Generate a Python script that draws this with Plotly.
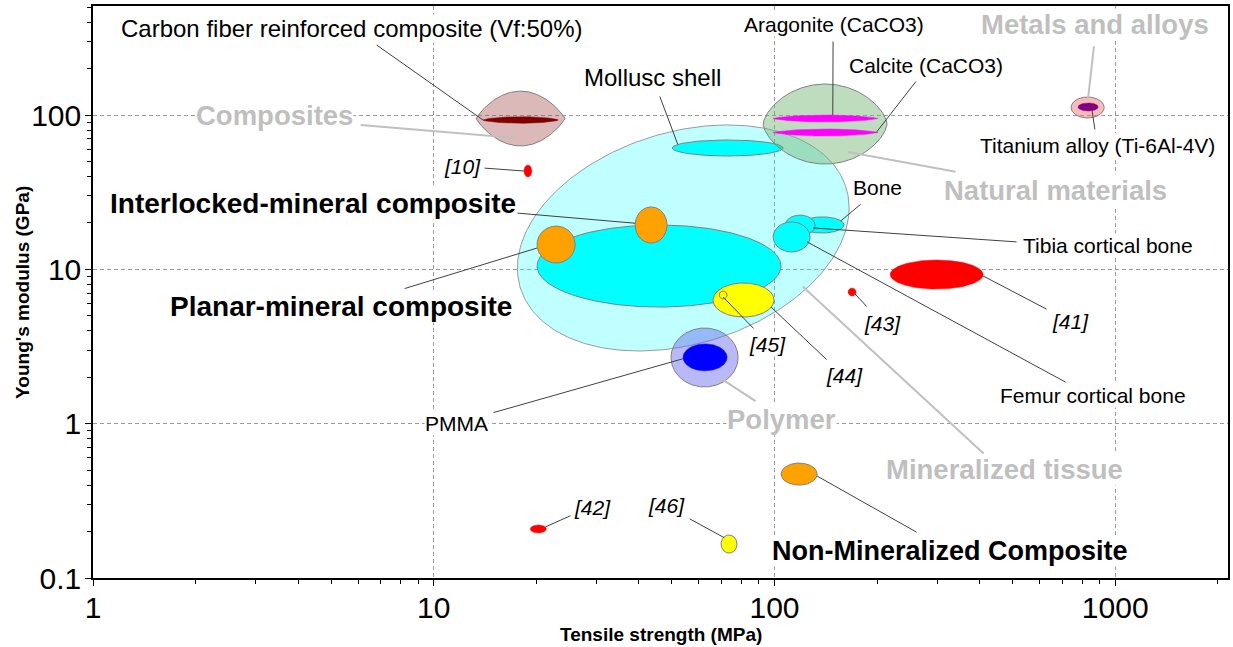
import numpy as np
import plotly.graph_objects as go

# ---------------- data: tensile strength (MPa) and Young's modulus (GPa) ranges ----------------
materials = ["mineral_tissue", "mollusc", "natural", "aragonite", "calcite",
             "composites", "cfrp", "ref10", "metals", "ti_alloy",
             "polymer", "pmma", "planar_tissue", "interlocked", "planar",
             "ref44", "ref45", "bone", "tibia", "femur",
             "ref41", "ref43", "nonmineral", "ref42", "ref46"]
strength_min = [17.6, 50.1, 92.6, 99.1, 99.1,
                13.3, 13.95, 18.4, 742, 778,
                49.7, 53.9, 20.1, 39.0, 20.1,
                66.0, 68.8, 118.9, 107.4, 99.1,
                218.5, 164.4, 104.6, 19.2, 69.7]
strength_max = [165.6, 106, 214, 201, 201,
                24.3, 23.2, 19.4, 928, 891,
                78.2, 72.6, 104.5, 48.4, 26.0,
                99.7, 72.6, 160, 131.6, 127.2,
                409.7, 173.6, 133.4, 21.4, 77.6]
modulus_min = [2.96, 54.3, 48.2, 90.2, 73.2,
               63.1, 88.5, 39.7, 95.8, 106.3,
               1.73, 2.20, 5.70, 14.8, 11.0,
               4.91, 6.43, 17.2, 16.5, 12.97,
               7.46, 6.72, 0.400, 0.1957, 0.145]
modulus_max = [86.3, 69.0, 159, 100.1, 81.3,
               143, 97.6, 47.5, 131, 119.8,
               4.17, 3.29, 19.4, 25.4, 19.1,
               8.17, 7.24, 21.9, 22.5, 20.3,
               11.5, 7.58, 0.556, 0.2206, 0.190]

x_ticks = [1, 10, 100, 1000]
x_ticktext = ["1", "10", "100", "1000"]
y_ticks = [0.1, 1, 10, 100]
y_ticktext = ["0.1", "1", "10", "100"]

# ---------------- styles ----------------
GRAY = "#808080"
style = {
    "mineral_tissue": dict(fill="rgba(0,255,255,0.25)", line="#9a9a9a", p=1.0, tilt=0.27),
    "mollusc": dict(fill="#00FFFF", line=GRAY),
    "natural": dict(fill="rgba(110,180,110,0.45)", line=GRAY, p=1.3),
    "aragonite": dict(fill="#FF00FF", line=None, p=1.5),
    "calcite": dict(fill="#FF00FF", line=None, p=1.5),
    "composites": dict(fill="rgba(165,80,80,0.4)", line=GRAY, p=1.8),
    "cfrp": dict(fill="#800000", line=None, p=1.3),
    "ref10": dict(fill="#FF0000", line=None),
    "metals": dict(fill="rgba(240,120,120,0.5)", line=GRAY),
    "ti_alloy": dict(fill="#800080", line=None),
    "polymer": dict(fill="rgba(100,100,240,0.45)", line=GRAY),
    "pmma": dict(fill="#0000FF", line=None),
    "planar_tissue": dict(fill="#00FFFF", line=GRAY),
    "interlocked": dict(fill="#FFA200", line=GRAY),
    "planar": dict(fill="#FFA200", line=GRAY),
    "ref44": dict(fill="#FFFF00", line=GRAY),
    "ref45": dict(fill="#FFFF00", line=GRAY),
    "bone": dict(fill="#00FFFF", line=GRAY),
    "tibia": dict(fill="#00FFFF", line=GRAY),
    "femur": dict(fill="#00FFFF", line=GRAY),
    "ref41": dict(fill="#FF0000", line=None),
    "ref43": dict(fill="#FF0000", line=None),
    "nonmineral": dict(fill="#FFA200", line=GRAY),
    "ref42": dict(fill="#FF0000", line=None),
    "ref46": dict(fill="#FFFF00", line=GRAY),
}

FONT = "Liberation Sans, Arial, sans-serif"


def geom(name):
    i = materials.index(name)
    lx = np.log10([strength_min[i], strength_max[i]])
    ly = np.log10([modulus_min[i], modulus_max[i]])
    return lx.mean(), (lx[1] - lx[0]) / 2, ly.mean(), (ly[1] - ly[0]) / 2


def outline(name):
    cx, A, cy, B = geom(name)
    st = style[name]
    p = st.get("p", 1.0)
    tilt = st.get("tilt", 0.0)
    t = np.linspace(0, 2 * np.pi, 301)
    s = np.sin(t + tilt)
    X = cx + A * np.cos(t)
    Y = cy + B * np.sign(s) * np.abs(s) ** p
    return 10 ** X, 10 ** Y


def anchor(name, fx, fy):
    cx, A, cy, B = geom(name)
    return cx + fx * A, cy + fy * B


fig = go.Figure()
for name in materials:
    xs, ys = outline(name)
    st = style[name]
    fig.add_trace(go.Scatter(
        x=xs, y=ys, mode="lines", fill="toself", fillcolor=st["fill"],
        line=dict(color=st["line"] if st["line"] else st["fill"], width=1 if st["line"] else 0.5),
        hoverinfo="skip", showlegend=False, name=name))

# ---------------- labels ----------------
BLACK_LINE = "#404040"
LIGHT = "#c0c0c0"
# (text, x, y, kind)
labels = [
    ("Carbon fiber reinforced composite (Vf:50%)", 5.76, 366.8, "big"),
    ("<b>Composites</b>", 3.42, 98.7, "gray"),
    ("<i>[10]</i>", 12.11, 46.1, "ref"),
    ("<b>Interlocked-mineral composite</b>", 4.42, 26.9, "bold"),
    ("<b>Planar-mineral composite</b>", 5.34, 5.79, "bold"),
    ("Mollusc shell", 44.0, 174, "big"),
    ("Aragonite (CaCO3)", 149.6, 383.7, "norm"),
    ("Calcite (CaCO3)", 278.6, 208.1, "norm"),
    ("<b>Metals and alloys</b>", 873, 383.7, "gray"),
    ("Titanium alloy (Ti-6Al-4V)", 885, 64.0, "norm"),
    ("<b>Natural materials</b>", 666, 32.7, "gray"),
    ("Bone", 200.1, 33.7, "norm"),
    ("Tibia cortical bone", 953, 14.18, "norm"),
    ("Femur cortical bone", 861, 1.512, "norm"),
    ("<i>[41]</i>", 737.4, 4.63, "ref"),
    ("<i>[43]</i>", 206.9, 4.43, "ref"),
    ("<i>[44]</i>", 160.1, 2.04, "ref"),
    ("<i>[45]</i>", 95.1, 3.24, "ref"),
    ("PMMA", 11.7, 1.01, "norm"),
    ("<b>Polymer</b>", 104.6, 1.057, "gray"),
    ("<b>Mineralized tissue</b>", 472, 0.5085, "gray"),
    ("<i>[42]</i>", 29.15, 0.2885, "ref"),
    ("<i>[46]</i>", 48.1, 0.2929, "ref"),
    ("<b>Non-Mineralized Composite</b>", 327.6, 0.1496, "nm"),
]
fonts = {
    "big": dict(size=24, color="black"),
    "norm": dict(size=21, color="black"),
    "ref": dict(size=21, color="black"),
    "bold": dict(size=28, color="black"),
    "nm": dict(size=27, color="black"),
    "gray": dict(size=27.5, color="#bfbfbf"),
}

# leader lines: (tail x, tail y, target, fx, fy, colour)
leaders = [
    (6.73, 289, "cfrp", -1.0, 0.0, BLACK_LINE),
    (6.04, 86.3, "composites", -0.12, -0.71, LIGHT),
    (13.95, 45.4, "ref10", -1.0, 0.0, BLACK_LINE),
    (45.9, 135.0, "mollusc", -0.9, 0.45, BLACK_LINE),
    (17.44, 23.2, "interlocked", -1.0, 0.1, BLACK_LINE),
    (8.13, 7.46, "planar", -1.0, -0.19, BLACK_LINE),
    (14.83, 1.173, "pmma", -1.0, -0.1, BLACK_LINE),
    (88.9, 1.382, "polymer", 0.46, -0.69, LIGHT),
    (87.7, 4.05, "ref45", 0.0, -0.5, BLACK_LINE),
    (143.7, 2.55, "ref44", 0.9, -0.41, BLACK_LINE),
    (415, 0.627, "mineral_tissue", 0.72, -0.43, LIGHT),
    (722.5, 1.836, "femur", 0.84, -0.33, BLACK_LINE),
    (518.8, 15.05, "tibia", 0.87, -0.24, BLACK_LINE),
    (180.8, 26.9, "bone", 0.85, 0.5, BLACK_LINE),
    (635.3, 5.46, "ref41", 1.0, -0.1, BLACK_LINE),
    (188.3, 5.62, "ref43", 0.75, -0.5, BLACK_LINE),
    (148.6, 306.7, "aragonite", 0.14, 1.0, BLACK_LINE),
    (262.2, 168.9, "calcite", 0.97, 0.0, BLACK_LINE),
    (867, 284.7, "metals", 0.03, 0.9, LIGHT),
    (873, 78.9, "ti_alloy", 0.4, -1.0, BLACK_LINE),
    (343.6, 42.8, "natural", 0.37, -0.7, LIGHT),
    (25.47, 0.256, "ref42", 0.87, 0.5, BLACK_LINE),
    (55.8, 0.2448, "ref46", -0.6, 0.7, BLACK_LINE),
    (263.9, 0.1957, "nonmineral", 1.0, -0.18, BLACK_LINE),
]

annotations = []
for text, x, y, kind in labels:
    annotations.append(dict(
        text=text, x=np.log10(x), y=np.log10(y), xref="x", yref="y",
        showarrow=False, xanchor="center", yanchor="middle",
        font=dict(family=FONT, **fonts[kind]), bgcolor="white", borderpad=0))

for tx, ty, target, fx, fy, col in leaders:
    hx, hy = anchor(target, fx, fy)
    annotations.append(dict(
        text="", x=hx, y=hy, xref="x", yref="y",
        ax=np.log10(tx), ay=np.log10(ty), axref="x", ayref="y",
        showarrow=True, arrowhead=0, arrowwidth=2 if col == LIGHT else 1,
        arrowcolor=col, standoff=0, startstandoff=0))

# axis titles
annotations.append(dict(text="<b>Tensile strength (MPa)</b>", x=0.5, y=-0.098, xref="paper", yref="paper",
                        showarrow=False, xanchor="center", yanchor="middle",
                        font=dict(family=FONT, size=19, color="black")))
annotations.append(dict(text="<b>Young's modulus (GPa)</b>", x=-0.0626, y=0.5, xref="paper", yref="paper",
                        showarrow=False, xanchor="center", yanchor="middle", textangle=-90,
                        font=dict(family=FONT, size=19, color="black")))

x_minor = [v * d for d in (1, 10, 100) for v in range(2, 10)] + [2000]
y_minor = [v * d for d in (0.1, 1, 10) for v in range(2, 10)] + [200, 300, 400, 500]

axis_common = dict(
    type="log", showline=True, linecolor="black", linewidth=1.5, mirror=True,
    ticks="outside", ticklen=6, tickwidth=1, tickcolor="black", automargin=False,
    showgrid=True, gridcolor="#9a9a9a", gridwidth=1, griddash="4px,3px",
    zeroline=False, tickfont=dict(family=FONT, size=30, color="black"),
)

fig.update_layout(
    width=1233, height=647,
    margin=dict(l=93, r=5, t=6, b=69),
    paper_bgcolor="white", plot_bgcolor="white",
    showlegend=False,
    annotations=annotations,
    xaxis=dict(axis_common, range=[0, 3.331], tickmode="array", tickvals=x_ticks, ticktext=x_ticktext,
               ticklabelstandoff=-4,
               minor=dict(tickmode="array", tickvals=x_minor, ticks="outside", ticklen=4,
                          tickcolor="black", showgrid=False)),
    yaxis=dict(axis_common, range=[-1, 2.707], tickmode="array", tickvals=y_ticks, ticktext=y_ticktext,
               ticklabelstandoff=-2,
               minor=dict(tickmode="array", tickvals=y_minor, ticks="outside", ticklen=4,
                          tickcolor="black", showgrid=False)),
)

fig.write_html("out.html", config={"displayModeBar": False},
               post_script="document.body.style.margin='0';document.body.style.padding='0';")
